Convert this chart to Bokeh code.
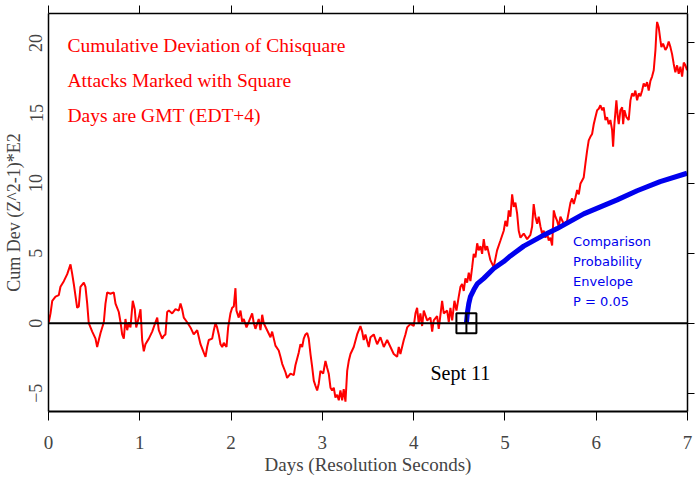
from bokeh.plotting import figure
from bokeh.models import LinearAxis, Span, Label, FixedTicker, Range1d, CustomLabelingPolicy
from bokeh.embed import file_html
from bokeh.resources import INLINE

# ---- data ----
red_days = [0.003, 0.022, 0.041, 0.077, 0.113, 0.131, 0.168, 0.205, 0.241, 0.260, 0.277, 0.314, 0.332, 0.350,
            0.387, 0.405, 0.424, 0.441, 0.479, 0.515, 0.533, 0.551, 0.570, 0.606, 0.624, 0.643, 0.679, 0.715,
            0.734, 0.770, 0.789, 0.807, 0.825, 0.843, 0.862, 0.880, 0.898, 0.923, 0.945, 0.961, 0.989, 1.008,
            1.026, 1.044, 1.062, 1.099, 1.136, 1.172, 1.191, 1.208, 1.245, 1.263, 1.281, 1.300, 1.318, 1.355,
            1.391, 1.427, 1.446, 1.464, 1.482, 1.519, 1.555, 1.591, 1.629, 1.665,
            1.701, 1.720, 1.738, 1.756, 1.793, 1.811, 1.829, 1.847, 1.865, 1.884, 1.903, 1.920, 1.950, 1.968,
            1.993, 2.012, 2.030, 2.048, 2.059, 2.084, 2.103, 2.122, 2.139, 2.169, 2.194, 2.231, 2.249, 2.267,
            2.303, 2.322, 2.341, 2.358, 2.395, 2.432, 2.450, 2.486, 2.522, 2.541, 2.560, 2.596, 2.614, 2.651,
            2.687, 2.705, 2.741, 2.760, 2.779, 2.796, 2.815, 2.834, 2.851, 2.870, 2.888, 2.906, 2.924, 2.943,
            2.961, 2.979, 3.009, 3.034, 3.053, 3.070, 3.089, 3.107, 3.125, 3.143, 3.162, 3.180, 3.198, 3.217,
            3.234, 3.253, 3.272, 3.289,
            3.308, 3.344, 3.381, 3.417, 3.436, 3.453, 3.472, 3.508, 3.527, 3.563, 3.600, 3.636, 3.673, 3.710,
            3.746, 3.782, 3.819, 3.837, 3.855, 3.892, 3.910, 3.929, 3.965, 4.001, 4.020, 4.038, 4.056, 4.074,
            4.093, 4.111, 4.148, 4.184, 4.203, 4.220, 4.257, 4.275, 4.312, 4.330, 4.367, 4.385, 4.403, 4.422,
            4.447, 4.469, 4.494, 4.513, 4.531, 4.549, 4.567, 4.586, 4.604, 4.622, 4.641, 4.658, 4.677, 4.696,
            4.713, 4.732, 4.750, 4.768, 4.786, 4.805,
            4.841, 4.877, 4.914, 4.951, 4.987, 5.005, 5.024, 5.042, 5.060, 5.079, 5.097, 5.115, 5.134, 5.151,
            5.170, 5.206, 5.243, 5.279, 5.298, 5.315, 5.334, 5.353, 5.370, 5.389, 5.407, 5.425, 5.444, 5.462,
            5.480, 5.498, 5.517, 5.535, 5.553, 5.572, 5.589, 5.608, 5.644, 5.681, 5.718, 5.736, 5.754, 5.772,
            5.791, 5.809, 5.827,
            5.863, 5.882, 5.900, 5.918, 5.936, 5.955, 5.973, 5.991, 6.010, 6.028, 6.046, 6.065, 6.082, 6.101,
            6.119, 6.137, 6.155, 6.174, 6.185, 6.199, 6.221, 6.236, 6.247, 6.265, 6.284, 6.295, 6.309, 6.331,
            6.356, 6.375, 6.393, 6.411, 6.429, 6.448, 6.466, 6.484, 6.503, 6.520, 6.539, 6.557, 6.575, 6.594,
            6.612, 6.630, 6.649, 6.660, 6.667, 6.685, 6.703, 6.714, 6.732, 6.758, 6.776, 6.794, 6.813, 6.831,
            6.849, 6.867, 6.886, 6.904, 6.922, 6.941, 6.959, 6.977, 6.995]
red_dev = [0.07, 0.7, 1.6, 1.9, 2.0, 2.6, 3.0, 3.5, 4.2, 3.5, 2.8, 1.1, 1.2, 2.6,
           2.9, 2.6, 1.4, 0.0, -0.6, -1.1, -1.7, -1.2, -0.7, 0.07, 1.4, 2.2, 2.1, 2.2,
           1.4, 0.8, 0.07, -0.8, -1.1, 0.3, -0.5, 0.07, -0.3, 1.6, 1.0, -0.3, 0.4, 1.0,
           -1.2, -2.0, -1.5, -1.1, -0.6, 0.07, 0.4, -0.5, -1.1, -0.9, -0.8, 0.8, 0.9, 0.7,
           1.0, 0.9, 1.4, 1.0, 0.4, 0.07, -0.3, -0.8, -0.5, -1.5,
           -2.1, -2.4, -1.7, -1.2, -1.1, -0.5, 0.0, -0.3, -0.8, -1.5, -1.7, -1.4, -1.7, -0.3,
           0.7, 1.1, 1.2, 2.5, 0.9, 0.4, 0.9, 0.1, 0.3, -0.3, 0.1, 0.7, 0.0, -0.4,
           0.3, -0.5, 0.6, 0.0, -0.5, -1.0, -0.6, -1.6, -1.95, -2.4, -2.9, -3.5, -3.9, -3.6,
           -3.7, -3.0, -2.1, -1.5, -1.7, -1.1, -0.8, -0.7, -1.1, -2.2, -3.1, -4.1, -4.45, -4.8,
           -4.3, -3.4, -3.6, -2.7, -3.2, -3.6, -4.6, -4.8, -4.6, -5.3, -5.1, -5.5, -4.8, -5.5,
           -4.7, -5.6, -3.4, -2.7,
           -2.2, -1.7, -0.8, -0.2, -0.6, -1.2, -0.8, -1.7, -1.0, -0.8, -1.5, -1.0, -1.7, -1.2,
           -1.7, -2.2, -2.4, -1.7, -2.2, -1.2, -0.8, -0.3, -0.05, -0.2, 0.7, 1.1, -0.05, 0.7,
           -0.2, 0.9, 0.2, 0.4, -0.6, 0.2, 0.5, -0.4, 1.6, 0.7, 0.9, 0.07, 1.1, 0.2,
           1.6, 0.9, 1.9, 2.6, 2.8, 2.3, 3.2, 2.9, 3.6, 3.0, 4.0, 4.95, 4.7, 5.7,
           5.2, 5.5, 4.95, 6.0, 5.2, 5.5,
           4.5, 4.0, 5.2, 5.9, 6.6, 7.3, 6.9, 8.05, 7.6, 9.2, 8.3, 8.6, 7.8, 6.6,
           6.1, 6.4, 6.0, 6.3, 6.9, 8.5, 7.6, 7.1, 7.6, 6.9, 6.4, 6.6, 6.1, 6.4,
           5.9, 6.1, 5.55, 8.05, 7.6, 7.3, 6.9, 7.6, 7.1, 7.3, 8.6, 8.9, 8.5, 8.95,
           9.5, 9.2, 9.95,
           10.4, 11.4, 12.3, 13.05, 13.3, 13.5, 14.2, 14.7, 15.2, 15.3, 15.55, 15.2, 15.4, 14.5,
           14.7, 14.2, 14.5, 13.8, 12.6, 14.2, 15.9, 14.7, 14.2, 15.2, 15.4, 14.2, 15.2, 14.7,
           14.5, 15.9, 16.4, 16.2, 16.6, 15.9, 16.4, 16.2, 16.6, 17.1, 16.9, 17.2, 16.6, 17.3,
           17.6, 18.05, 19.5, 20.9, 21.5, 21.1, 20.2, 19.7, 19.95, 19.5, 19.7, 20.1, 19.7, 19.2,
           18.5, 17.9, 18.4, 17.8, 18.3, 17.6, 18.6, 18.4, 18.05]

env_days = [4.578, 4.590, 4.604, 4.622, 4.660, 4.696, 4.768, 4.877, 4.987, 5.060, 5.206, 5.400,
            5.572, 5.863, 6.046, 6.229, 6.448, 6.700, 6.995]
env_dev = [0.0, 0.8, 1.4, 1.9, 2.4, 2.8, 3.2, 3.9, 4.4, 4.8, 5.5, 6.2,
           6.75, 7.8, 8.3, 8.8, 9.45, 10.1, 10.7]

attack_day = [4.578]
attack_dev = [0.0]

x_ticks = [0, 1, 2, 3, 4, 5, 6, 7]
y_ticks = [-5, 0, 5, 10, 15, 20]

SERIF = "Liberation Serif"

p = figure(width=700, height=477, output_backend="svg", toolbar_location=None,
           x_range=Range1d(0, 7), y_range=Range1d(-6.3, 22.1),
           min_border_left=48, min_border_right=13, min_border_top=13, min_border_bottom=66,
           background_fill_color="white", border_fill_color="white")
p.outline_line_color = None
p.grid.visible = False

# bottom axis
xa = p.xaxis[0]
xa.ticker = FixedTicker(ticks=x_ticks)
xa.axis_label = "Days (Resolution Seconds)"
xa.axis_label_text_font = SERIF
xa.axis_label_text_font_size = "19px"
xa.axis_label_text_font_style = "normal"
xa.axis_label_standoff = 2
xa.major_label_text_font = SERIF
xa.major_label_text_font_size = "19px"
xa.major_label_standoff = 15
xa.major_tick_out = 9
xa.major_tick_in = 0
xa.minor_tick_out = 0
xa.minor_tick_in = 0
xa.axis_line_width = 2

# left axis
ya = p.yaxis[0]
ya.ticker = FixedTicker(ticks=y_ticks)
ya.axis_label = "Cum Dev (Z^2-1)*E2"
ya.axis_label_text_font = SERIF
ya.axis_label_text_font_size = "18px"
ya.axis_label_text_font_style = "normal"
ya.axis_label_standoff = 3
ya.major_label_text_font = SERIF
ya.major_label_text_font_size = "18px"
ya.major_label_orientation = "vertical"
ya.major_label_standoff = 6
ya.major_tick_out = 0
ya.major_tick_in = 0
ya.minor_tick_out = 0
ya.minor_tick_in = 0
ya.axis_line_width = 1.5

# top & right axes (ticks only, no labels drawn)
hide_js = "for (let i = 0; i < indices.size; i++) { indices.unset(i) }\nreturn indices"
top = LinearAxis(ticker=FixedTicker(ticks=x_ticks), major_label_text_font_size="0px",
                 major_label_policy=CustomLabelingPolicy(code=hide_js),
                 major_label_standoff=0, major_tick_out=8, major_tick_in=0,
                 minor_tick_out=0, minor_tick_in=0, axis_line_width=1.5)
right = LinearAxis(ticker=FixedTicker(ticks=y_ticks), major_label_text_font_size="0px",
                   major_label_policy=CustomLabelingPolicy(code=hide_js),
                   major_label_standoff=0, major_tick_out=7, major_tick_in=0,
                   minor_tick_out=0, minor_tick_in=0, axis_line_width=1.5)
p.add_layout(top, "above")
p.add_layout(right, "right")

p.add_layout(Span(location=0, dimension="width", line_color="black", line_width=2))

p.line(red_days, red_dev, line_color="#ff0000", line_width=2)
p.line(env_days, env_dev, line_color="#0000ee", line_width=5)
p.scatter(attack_day, attack_dev, marker="square_cross", size=20, fill_color=None,
          line_color="black", line_width=2)

for txt, yv in [("Cumulative Deviation of Chisquare", 19.84),
                ("Attacks Marked with Square", 17.34),
                ("Days are GMT (EDT+4)", 14.84)]:
    p.add_layout(Label(x=0.208, y=yv, text=txt, text_color="#ff0000", text_font=SERIF,
                       text_font_size="19.5px", text_baseline="middle"))

for txt, yv in [("Comparison", 5.84), ("Probability", 4.41), ("Envelope", 2.98), ("P = 0.05", 1.55)]:
    p.add_layout(Label(x=5.747, y=yv, text=txt, text_color="#0000ee", text_font="DejaVu Sans",
                       text_font_size="13px", text_baseline="middle"))

p.add_layout(Label(x=4.184, y=-3.52, text="Sept 11", text_color="black", text_font=SERIF,
                   text_font_size="20px", text_baseline="middle"))

open("out.html", "w").write(file_html(p, INLINE))
